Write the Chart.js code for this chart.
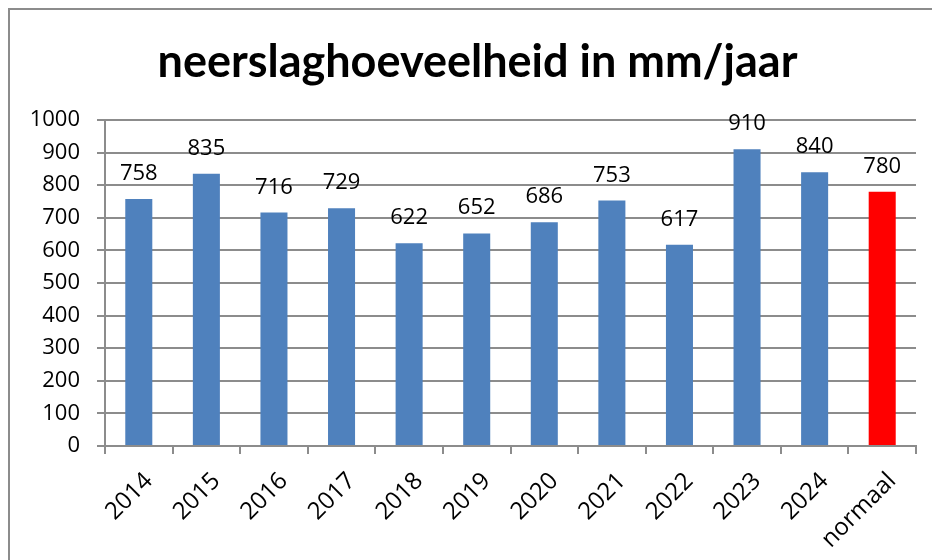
<!DOCTYPE html>
<html lang="nl">
<head>
    <meta charset="UTF-8">
    <title>neerslaghoeveelheid in mm/jaar</title>
    <style>
        body {
            margin: 0;
            background-color: #fff;
        }
        .frame {
            position: absolute;
            left: 8px;
            top: 8px;
            width: 1000px;
            height: 1000px;
            border-left: 2px solid #8c8c8c;
            border-top: 2px solid #8c8c8c;
        }
        .chart-box {
            position: absolute;
            left: 0;
            top: 0;
            width: 932px;
            height: 560px;
        }
    </style>
</head>
<body>
    <div class="frame"></div>
    <div class="chart-box">
        <canvas id="rainChart" width="932" height="560"></canvas>
    </div>
    <script src="https://cdn.jsdelivr.net/npm/chart.js"></script>
    <script>
        const chartTitle = 'neerslaghoeveelheid in mm/jaar';
        const categories = ['2014', '2015', '2016', '2017', '2018', '2019', '2020', '2021', '2022', '2023', '2024', 'normaal'];
        const rainfall = [758, 835, 716, 729, 622, 652, 686, 753, 617, 910, 840, 780];
        const barColors = ['#4f81bd', '#4f81bd', '#4f81bd', '#4f81bd', '#4f81bd', '#4f81bd', '#4f81bd', '#4f81bd', '#4f81bd', '#4f81bd', '#4f81bd', '#ff0000'];
        const yTicks = { min: 0, max: 1000, step: 100 };

        const gridGray = '#8c8c8c';
        const labelFont = { family: "'Open Sans', sans-serif", size: 22 };

        // title sits a little right of the canvas centre, like the original
        const titleText = {
            id: 'titleText',
            afterDraw(chart) {
                const ctx = chart.ctx;
                ctx.save();
                ctx.font = "bold 45px Lato, sans-serif";
                ctx.fillStyle = '#000';
                ctx.textAlign = 'center';
                ctx.textBaseline = 'middle';
                ctx.fillText(chartTitle, (chart.width + 23) / 2, 62);
                ctx.restore();
            }
        };

        // draws the value above each bar
        const valueLabels = {
            id: 'valueLabels',
            afterDatasetsDraw(chart) {
                const ctx = chart.ctx;
                const meta = chart.getDatasetMeta(0);
                ctx.save();
                ctx.font = "22px 'Open Sans', sans-serif";
                ctx.fillStyle = '#000';
                ctx.textAlign = 'center';
                ctx.textBaseline = 'alphabetic';
                meta.data.forEach((bar, i) => {
                    ctx.fillText(String(rainfall[i]), bar.x, bar.y - 19);
                });
                ctx.restore();
            }
        };

        new Chart(document.getElementById('rainChart'), {
            type: 'bar',
            data: {
                labels: categories,
                datasets: [{
                    data: rainfall,
                    backgroundColor: barColors,
                    barPercentage: 0.4,
                    categoryPercentage: 1.0
                }]
            },
            options: {
                responsive: false,
                animation: false,
                layout: {
                    padding: { left: 0, right: 16, top: 120, bottom: 0 }
                },
                plugins: {
                    legend: { display: false },
                    tooltip: { enabled: false },
                    title: { display: false }
                },
                scales: {
                    x: {
                        afterFit(scale) { scale.height = 114; },
                        border: { color: gridGray, width: 2 },
                        grid: {
                            drawOnChartArea: false,
                            drawTicks: true,
                            tickLength: 8,
                            color: gridGray,
                            lineWidth: 2
                        },
                        ticks: {
                            color: '#000',
                            font: { family: "'Open Sans', sans-serif", size: 24 },
                            minRotation: 45,
                            maxRotation: 45,
                            padding: 13,
                            labelOffset: 10
                        }
                    },
                    y: {
                        min: yTicks.min,
                        max: yTicks.max,
                        afterFit(scale) { scale.width = 105; },
                        border: { color: gridGray, width: 2 },
                        grid: {
                            color: gridGray,
                            lineWidth: 2,
                            tickLength: 8
                        },
                        ticks: {
                            stepSize: yTicks.step,
                            color: '#000',
                            font: labelFont,
                            padding: 17,
                            callback: (value) => String(value)
                        }
                    }
                }
            },
            plugins: [valueLabels, titleText]
        });
    </script>
</body>
</html>
